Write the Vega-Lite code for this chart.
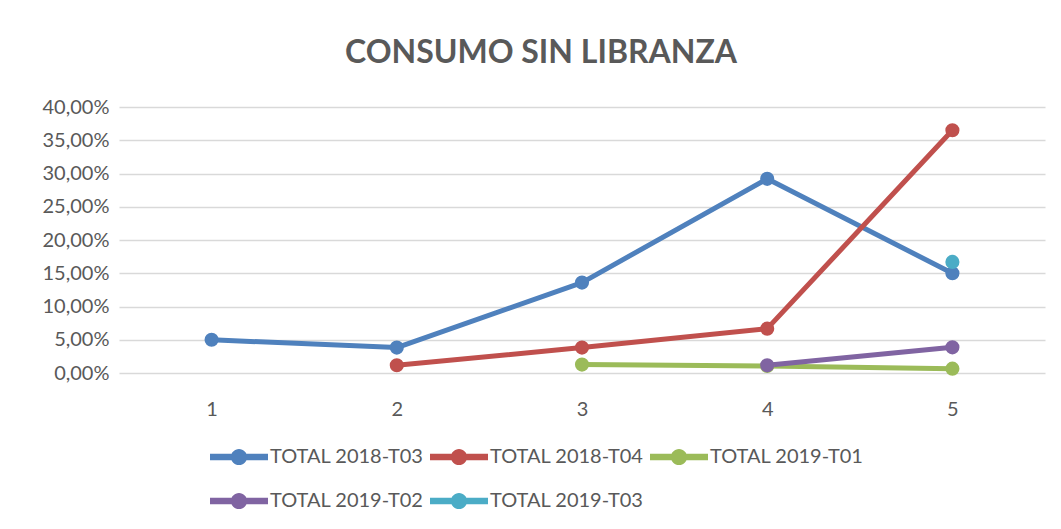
{
  "$schema": "https://vega.github.io/schema/vega-lite/v6.json",
  "width": 926,
  "height": 266,
  "autosize": {"type": "none"},
  "padding": {"left": 119, "top": 107, "right": 16, "bottom": 156},
  "background": "white",
  "title": {
    "text": "CONSUMO SIN LIBRANZA",
    "font": "Lato, sans-serif",
    "fontSize": 32,
    "fontWeight": "bold",
    "color": "#595959",
    "anchor": "middle",
    "dx": -41,
    "offset": 27
  },
  "data": {
    "values": [
      {"x": "1", "serie": "TOTAL 2018-T03", "v": 0.050},
      {"x": "2", "serie": "TOTAL 2018-T03", "v": 0.0382},
      {"x": "3", "serie": "TOTAL 2018-T03", "v": 0.136},
      {"x": "4", "serie": "TOTAL 2018-T03", "v": 0.292},
      {"x": "5", "serie": "TOTAL 2018-T03", "v": 0.150},
      {"x": "2", "serie": "TOTAL 2018-T04", "v": 0.0116},
      {"x": "3", "serie": "TOTAL 2018-T04", "v": 0.0382},
      {"x": "4", "serie": "TOTAL 2018-T04", "v": 0.0667},
      {"x": "5", "serie": "TOTAL 2018-T04", "v": 0.365},
      {"x": "3", "serie": "TOTAL 2019-T01", "v": 0.0126},
      {"x": "4", "serie": "TOTAL 2019-T01", "v": 0.0105},
      {"x": "5", "serie": "TOTAL 2019-T01", "v": 0.0065},
      {"x": "4", "serie": "TOTAL 2019-T02", "v": 0.0115},
      {"x": "5", "serie": "TOTAL 2019-T02", "v": 0.0386},
      {"x": "5", "serie": "TOTAL 2019-T03", "v": 0.167}
    ]
  },
  "encoding": {
    "x": {
      "field": "x",
      "type": "ordinal",
      "scale": {"domain": ["1", "2", "3", "4", "5"], "paddingInner": 0, "paddingOuter": 0.5},
      "axis": {
        "title": null,
        "labelAngle": 0,
        "ticks": false,
        "domain": false,
        "grid": false,
        "labelPadding": 26,
        "labelFont": "Lato, sans-serif",
        "labelFontSize": 20,
        "labelColor": "#595959"
      }
    },
    "y": {
      "field": "v",
      "type": "quantitative",
      "scale": {"domain": [0, 0.4], "nice": false, "zero": true},
      "axis": {
        "title": null,
        "values": [0, 0.05, 0.1, 0.15, 0.2, 0.25, 0.3, 0.35, 0.4],
        "labelExpr": "replace(format(datum.value, '.2%'), '.', ',')",
        "ticks": false,
        "domain": false,
        "grid": true,
        "gridColor": "#d9d9d9",
        "gridWidth": 1.5,
        "labelPadding": 10,
        "labelFont": "Lato, sans-serif",
        "labelFontSize": 20,
        "labelColor": "#595959"
      }
    },
    "color": {
      "field": "serie",
      "type": "nominal",
      "scale": {
        "domain": ["TOTAL 2018-T03", "TOTAL 2018-T04", "TOTAL 2019-T01", "TOTAL 2019-T02", "TOTAL 2019-T03"],
        "range": ["#4F81BD", "#C0504D", "#9BBB59", "#8064A2", "#4BACC6"]
      },
      "legend": {
        "title": null,
        "orient": "none",
        "direction": "horizontal",
        "columns": 3,
        "legendX": 91,
        "legendY": 321,
        "symbolType": "M-1,-0.11H1V0.11H-1Z M0.28,0A0.28,0.28 0 1,1 -0.28,0A0.28,0.28 0 1,1 0.28,0Z",
        "symbolSize": 3364,
        "symbolStrokeWidth": 0,
        "symbolOpacity": 1,
        "labelFont": "Lato, sans-serif",
        "labelFontSize": 20,
        "labelColor": "#595959",
        "labelOffset": 2,
        "columnPadding": 6,
        "rowPadding": 5,
        "gridAlign": "all"
      }
    }
  },
  "layer": [
    {
      "mark": {"type": "line", "strokeWidth": 5, "strokeCap": "round", "strokeJoin": "round"}
    },
    {
      "mark": {"type": "point", "filled": true, "opacity": 1, "size": 200}
    }
  ],
  "config": {
    "view": {"stroke": null},
    "legend": {"symbolFillColor": null}
  }
}
